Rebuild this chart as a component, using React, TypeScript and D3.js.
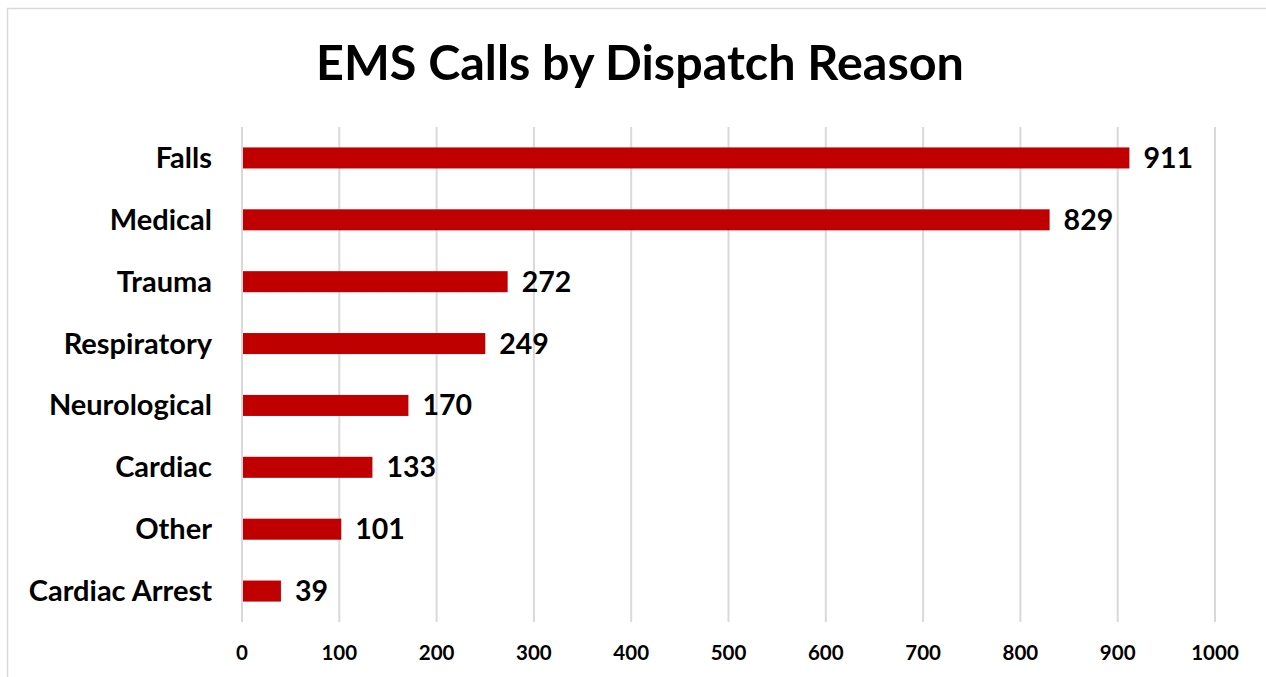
import React from "react";
import * as d3 from "d3";

const categories = ["Falls", "Medical", "Trauma", "Respiratory", "Neurological", "Cardiac", "Other", "Cardiac Arrest"];
const values = [911, 829, 272, 249, 170, 133, 101, 39];
const xTicks = [0, 100, 200, 300, 400, 500, 600, 700, 800, 900, 1000];
const title = "EMS Calls by Dispatch Reason";

const W = 1266;
const H = 677;
const FONT = "Lato, 'Open Sans', sans-serif";

export default function App() {
  const left = 242;
  const right = 1215;
  const top = 127;
  const bottom = 622;
  const x = d3.scaleLinear().domain([0, 1000]).range([left, right]);
  const y = d3.scaleBand<string>().domain(categories).range([top, bottom]).paddingInner(0.66).paddingOuter(0.33);
  const bh = y.bandwidth();

  return (
    <svg width={W} height={H} style={{ position: "absolute", left: 0, top: 0, background: "#fff" }}>
      <rect x={0} y={0} width={W} height={H} fill="#fff" />
      <rect x={7.5} y={8.5} width={W + 20} height={H + 20} fill="none" stroke="#d9d9d9" strokeWidth={1.5} />
      <text x={640} y={80} textAnchor="middle" fontFamily={FONT} fontWeight={700} fontSize={48.5} fill="#000">
        {title}
      </text>
      {xTicks.map((t) => (
        <g key={t}>
          <line x1={x(t)} x2={x(t)} y1={top} y2={bottom} stroke="#d9d9d9" strokeWidth={2} />
          <text x={x(t)} y={660} textAnchor="middle" fontFamily={FONT} fontWeight={700} fontSize={20.5} fill="#000">
            {t}
          </text>
        </g>
      ))}
      {categories.map((c, i) => {
        const yy = y(c)!;
        const cy = yy + bh / 2;
        return (
          <g key={c}>
            <rect x={x(0) + 1} y={yy} width={x(values[i]) - x(0)} height={bh} fill="#c00000" />
            <text x={212} y={cy + 10} textAnchor="end" fontFamily={FONT} fontWeight={700} fontSize={29} fill="#000">
              {c}
            </text>
            <text x={x(values[i]) + 15} y={cy + 10} textAnchor="start" fontFamily={FONT} fontWeight={700} fontSize={28.5} fill="#000">
              {values[i]}
            </text>
          </g>
        );
      })}
    </svg>
  );
}
